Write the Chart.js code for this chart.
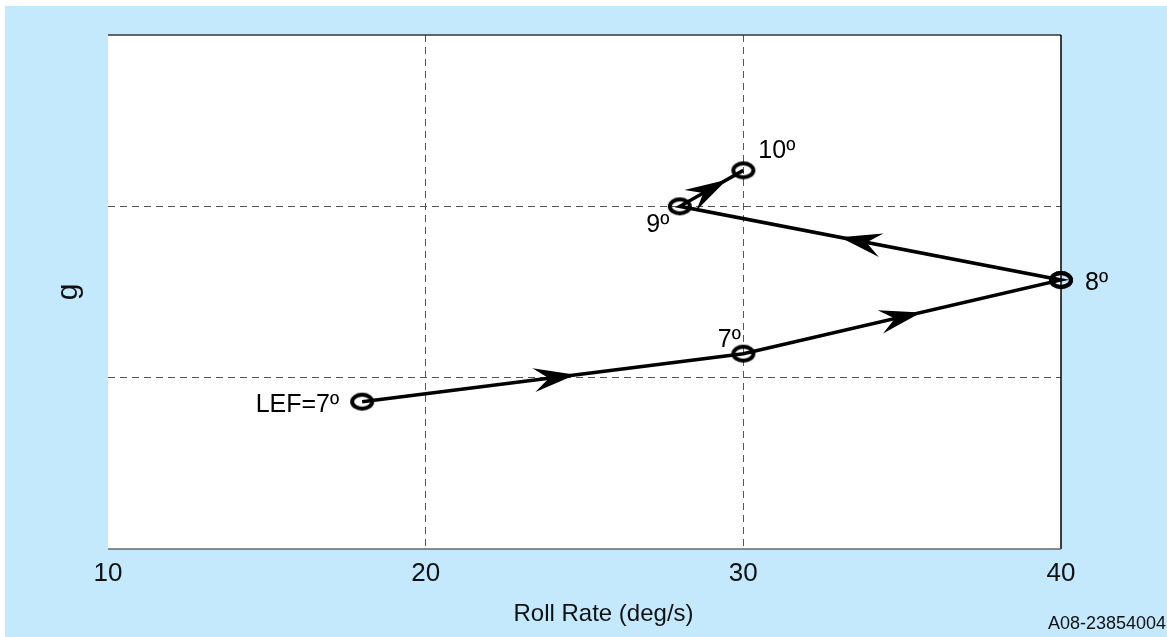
<!DOCTYPE html>
<html>
<head>
<meta charset="utf-8">
<script src="https://cdn.jsdelivr.net/npm/chart.js@4/dist/chart.umd.min.js"></script>
<style>
  body { margin: 0; background: #fff; }
  #wrap { position: absolute; left: 5px; top: 6px; width: 1162px; height: 631px; background: #c5e9fc; }
</style>
</head>
<body>
<div id="wrap"><canvas id="roll_chart" width="1162" height="631"></canvas></div>
<script>
// data
var rollRate = [18, 30, 40, 28, 30]
var gLoad = [0.86, 1.14, 1.57, 2.0, 2.21]
var pointNames = ["LEF=7º", "7º", "8º", "9º", "10º"]
var xTicks = [10, 20, 30, 40]
var yTicks = [0, 1, 2, 3]
var xTitle = "Roll Rate (deg/s)"
var noteText = "A08-23854004"

// where along each segment the arrow tip sits
var arrowAt = [0.56, 0.56, 0.58, 0.74]
// label offsets from the point (px) and alignment
var labelPos = [
    { dx: -23, dy: 3, align: "right" },
    { dx: -14, dy: -14, align: "center" },
    { dx: 24, dy: 3, align: "left" },
    { dx: -22, dy: 19, align: "center" },
    { dx: 15, dy: -19, align: "left" }
]

// open ellipse marker
var marker = document.createElement("canvas")
marker.width = 28
marker.height = 22
var mctx = marker.getContext("2d")
mctx.lineWidth = 4
mctx.strokeStyle = "#000"
mctx.beginPath()
mctx.ellipse(14, 11, 10, 7, 0, 0, Math.PI * 2)
mctx.stroke()

var points = rollRate.map(function (x, i) { return { x: x, y: gLoad[i] } })

var arrowPlugin = {
    id: "arrows",
    afterDatasetsDraw: function (chart) {
        var ctx = chart.ctx
        var pts = chart.getDatasetMeta(0).data
        ctx.save()
        ctx.fillStyle = "#000"
        for (var i = 0; i < pts.length - 1; i++) {
            var a = pts[i], b = pts[i + 1]
            var t = arrowAt[i]
            var tx = a.x + (b.x - a.x) * t
            var ty = a.y + (b.y - a.y) * t
            var ang = Math.atan2(b.y - a.y, b.x - a.x)
            ctx.save()
            ctx.translate(tx, ty)
            ctx.rotate(ang)
            ctx.beginPath()
            ctx.moveTo(0, 0)
            ctx.lineTo(-42, -12)
            ctx.lineTo(-27, 0)
            ctx.lineTo(-42, 12)
            ctx.closePath()
            ctx.fill()
            ctx.restore()
        }
        ctx.restore()
    },
    afterDraw: function (chart) {
        var ctx = chart.ctx
        var area = chart.chartArea
        var pts = chart.getDatasetMeta(0).data
        ctx.save()
        // frame
        ctx.lineWidth = 1.5
        ctx.strokeStyle = "#333"
        ctx.beginPath()
        ctx.moveTo(area.left, area.top)
        ctx.lineTo(area.right, area.top)
        ctx.stroke()
        ctx.strokeStyle = "#000"
        ctx.beginPath()
        ctx.moveTo(area.right, area.top)
        ctx.lineTo(area.right, area.bottom)
        ctx.stroke()
        ctx.strokeStyle = "#666"
        ctx.beginPath()
        ctx.moveTo(area.left, area.bottom)
        ctx.lineTo(area.right, area.bottom)
        ctx.stroke()
        // redraw the marker on the frame edge so it is not hidden
        var last = pts[2]
        ctx.drawImage(marker, last.x - marker.width / 2, last.y - marker.height / 2)
        // point labels
        ctx.fillStyle = "#000"
        ctx.font = "25px 'Liberation Sans', Arial, sans-serif"
        ctx.textBaseline = "middle"
        pts.forEach(function (p, i) {
            ctx.textAlign = labelPos[i].align
            ctx.fillText(pointNames[i], p.x + labelPos[i].dx, p.y + labelPos[i].dy)
        })
        // x axis title, sits a little right of centre in the original
        ctx.fillStyle = "#111"
        ctx.font = "24px 'Liberation Sans', Arial, sans-serif"
        ctx.textAlign = "center"
        ctx.fillText(xTitle, (area.left + area.right) / 2 + 19, chart.height - 23)
        // figure id
        ctx.font = "18px 'Liberation Sans', Arial, sans-serif"
        ctx.textAlign = "right"
        ctx.textBaseline = "alphabetic"
        ctx.fillText(noteText, chart.width - 1, chart.height - 8)
        ctx.restore()
    }
}

var rollCanvas = document.getElementById("roll_chart")
var config = {
    type: "line",
    data: {
        datasets: [{
            data: points,
            borderColor: "#000",
            borderWidth: 3.5,
            tension: 0,
            pointStyle: marker,
            pointRadius: 10,
            clip: false,
            fill: false
        }]
    },
    options: {
        responsive: false,
        devicePixelRatio: 1,
        animation: false,
        layout: { padding: { top: 29, right: 106, left: 0, bottom: 0 } },
        plugins: { legend: { display: false }, tooltip: { enabled: false } },
        scales: {
            x: {
                type: "linear",
                min: 10,
                max: 40,
                afterFit: function (s) { s.height = 88 },
                afterBuildTicks: function (s) { s.ticks = xTicks.map(function (v) { return { value: v } }) },
                border: { display: false, dash: [7, 5] },
                grid: {
                    drawTicks: false,
                    color: function (c) { return (c.tick && (c.tick.value === 10 || c.tick.value === 40)) ? "rgba(0,0,0,0)" : "#555" },
                    lineWidth: 1
                },
                ticks: {
                    padding: 9,
                    color: "#111",
                    font: { family: "'Liberation Sans', Arial, sans-serif", size: 26 }
                },
                title: { display: false }
            },
            y: {
                type: "linear",
                min: 0,
                max: 3,
                afterFit: function (s) { s.width = 103 },
                afterBuildTicks: function (s) { s.ticks = yTicks.map(function (v) { return { value: v } }) },
                border: { display: false, dash: [7, 5] },
                grid: {
                    drawTicks: false,
                    color: function (c) { return (c.tick && (c.tick.value === 0 || c.tick.value === 3)) ? "rgba(0,0,0,0)" : "#555" },
                    lineWidth: 1
                },
                ticks: { display: false },
                title: {
                    display: true,
                    text: "g",
                    color: "#111",
                    padding: { top: 46, bottom: 0 },
                    font: { family: "'Liberation Sans', Arial, sans-serif", size: 30 }
                }
            }
        }
    },
    plugins: [
        {
            id: "plotBg",
            beforeDraw: function (chart) {
                var a = chart.chartArea
                chart.ctx.save()
                chart.ctx.fillStyle = "#fff"
                chart.ctx.fillRect(a.left, a.top, a.right - a.left, a.bottom - a.top)
                chart.ctx.restore()
            }
        },
        arrowPlugin
    ]
}

var roll_chart = new Chart(rollCanvas, config)
</script>
</body>
</html>
